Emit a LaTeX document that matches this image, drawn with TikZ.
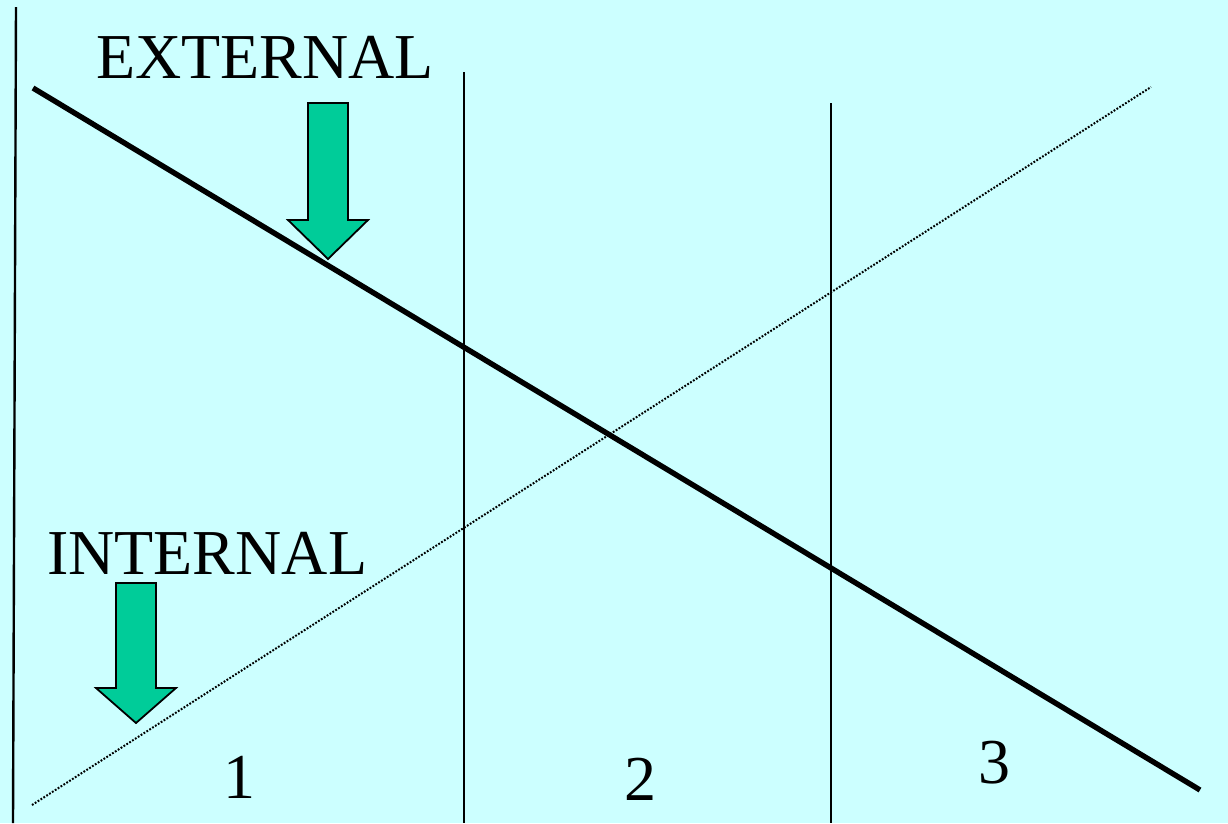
\documentclass[tikz,border=0pt]{standalone}
\usepackage{fontspec}
\setmainfont{Liberation Serif}
\definecolor{bg}{HTML}{CCFFFF}
\definecolor{arrowfill}{HTML}{00CC99}
\tikzset{
  vline/.style={line width=2.4pt},
  mainline/.style={line width=5.4pt},
  dotline/.style={line width=2pt, dash pattern=on 1.8pt off 1.6pt},
  label/.style={font=\fontsize{64}{64}\selectfont, inner sep=0pt, anchor=base west},
  greenarrow/.style={fill=arrowfill, draw=black, line width=1.8pt, line join=miter}
}
\begin{document}
\begin{tikzpicture}[x=1pt,y=-1pt]
\fill[bg] (0,0) rectangle (1228,823);
\useasboundingbox (0,0) rectangle (1228,823);
% verticals
\coordinate (v1t) at (16,7); \coordinate (v1b) at (13,823);
\coordinate (v2t) at (464,72); \coordinate (v2b) at (464,823);
\coordinate (v3t) at (831,103); \coordinate (v3b) at (831,823);
\draw[vline] (v1t) -- (v1b);
\draw[vline] (v2t) -- (v2b);
\draw[vline] (v3t) -- (v3b);
% lines
\coordinate (ea) at (33,88); \coordinate (eb) at (1200,790);
\coordinate (ia) at (32,805); \coordinate (ib) at (1151,87);
\draw[mainline] (ea) -- (eb);
\draw[dotline] (ia) -- (ib);
% labels
\node[label] (ext) at (96,78) {EXTERNAL};
\node[label] (int) at (47,574) {INTERNAL};
\node[label, anchor=base] (n1) at (239,798) {1};
\node[label, anchor=base] (n2) at (640,800) {2};
\node[label, anchor=base] (n3) at (994,783) {3};
% arrows
\draw[greenarrow] (308,103) -- (348,103) -- (348,220) -- (368,220) -- (328,259) -- (288,220) -- (308,220) -- cycle;
\draw[greenarrow] (116,583) -- (156,583) -- (156,688) -- (176,688) -- (136,723) -- (96,688) -- (116,688) -- cycle;
\end{tikzpicture}
\end{document}
